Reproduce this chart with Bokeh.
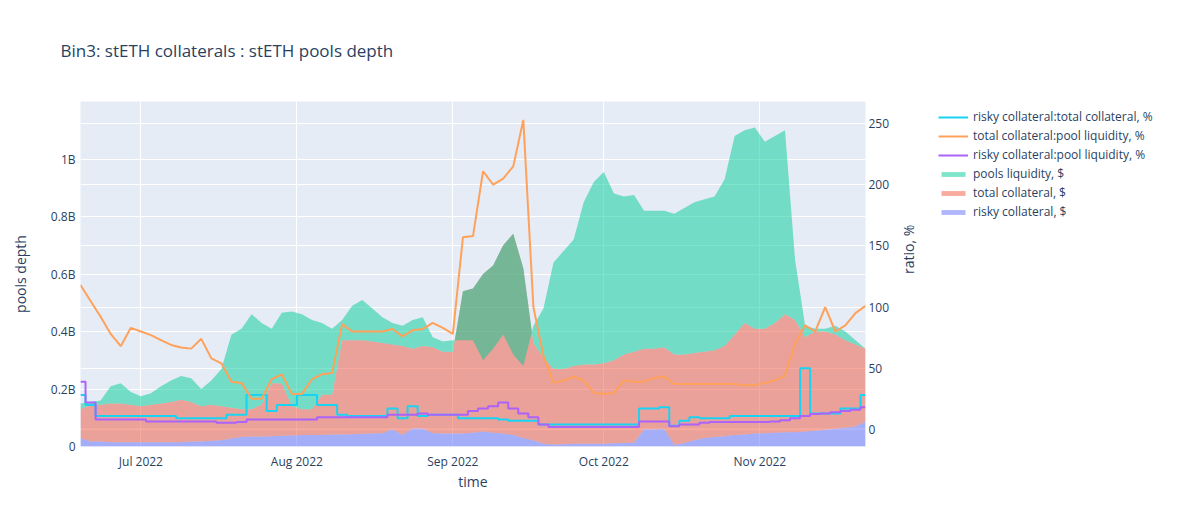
import math
import pandas as pd
from bokeh.plotting import figure
from bokeh.layouts import row
from bokeh.models import (Range1d, LinearAxis, Grid, FixedTicker, CustomJSTickFormatter,
                          DatetimeTickFormatter, MonthsTicker, Legend, LegendItem, Span,
                          ColumnDataSource)
from bokeh.embed import file_html
from bokeh.resources import INLINE

# ---- data, one value every 2 days ----
dates = pd.date_range("2022-06-19", periods=79, freq="2D")

pools_liquidity_bn = [
    0.15, 0.155, 0.16, 0.21, 0.22, 0.19, 0.175, 0.185, 0.21, 0.23,
    0.245, 0.237, 0.20, 0.23, 0.27, 0.39, 0.41, 0.46, 0.43, 0.41,
    0.465, 0.47, 0.46, 0.44, 0.43, 0.41, 0.44, 0.49, 0.51, 0.48,
    0.45, 0.43, 0.42, 0.44, 0.45, 0.38, 0.365, 0.37, 0.37, 0.37,
    0.30, 0.34, 0.39, 0.32, 0.28, 0.42, 0.48, 0.64, 0.68, 0.72,
    0.85, 0.92, 0.955, 0.88, 0.87, 0.875, 0.82, 0.82, 0.82, 0.81,
    0.83, 0.85, 0.86, 0.87, 0.93, 1.08, 1.10, 1.11, 1.06, 1.08,
    1.10, 0.65, 0.42, 0.41, 0.41, 0.42, 0.40, 0.37, 0.34,
]
total_collateral_bn = [
    0.13, 0.145, 0.145, 0.15, 0.15, 0.145, 0.14, 0.145, 0.15, 0.155,
    0.163, 0.155, 0.14, 0.145, 0.14, 0.135, 0.13, 0.13, 0.145, 0.22,
    0.22, 0.14, 0.13, 0.13, 0.18, 0.18, 0.37, 0.37, 0.37, 0.365,
    0.36, 0.355, 0.35, 0.34, 0.35, 0.345, 0.33, 0.33, 0.54, 0.55,
    0.60, 0.63, 0.70, 0.74, 0.62, 0.36, 0.31, 0.27, 0.27, 0.28,
    0.285, 0.285, 0.29, 0.30, 0.32, 0.33, 0.34, 0.34, 0.345, 0.32,
    0.32, 0.325, 0.33, 0.335, 0.35, 0.39, 0.43, 0.41, 0.41, 0.43,
    0.46, 0.44, 0.38, 0.40, 0.40, 0.39, 0.37, 0.355, 0.34,
]
risky_collateral_bn = [
    0.03, 0.017, 0.017, 0.015, 0.015, 0.015, 0.015, 0.015, 0.015, 0.015,
    0.015, 0.017, 0.017, 0.02, 0.022, 0.028, 0.033, 0.035, 0.035, 0.036,
    0.037, 0.038, 0.04, 0.04, 0.04, 0.042, 0.042, 0.043, 0.044, 0.045,
    0.046, 0.06, 0.04, 0.063, 0.063, 0.046, 0.045, 0.045, 0.045, 0.048,
    0.052, 0.048, 0.045, 0.04, 0.03, 0.022, 0.01, 0.007, 0.008, 0.01,
    0.01, 0.01, 0.01, 0.011, 0.012, 0.013, 0.06, 0.06, 0.061, 0.006,
    0.012, 0.022, 0.03, 0.033, 0.036, 0.04, 0.042, 0.045, 0.046, 0.048,
    0.05, 0.05, 0.052, 0.055, 0.058, 0.062, 0.065, 0.07, 0.087,
]
ratio_total_pool = [
    118, 105, 92, 78, 68, 83, 80, 77, 73, 69,
    67, 66, 74, 58, 54, 39, 38, 25, 25, 41,
    45, 29, 29, 41, 45, 46, 86, 80, 80, 80,
    80, 82, 76, 81, 82, 87, 83, 78, 157, 158,
    211, 200, 205, 215, 253, 100, 60, 38, 40, 43,
    40, 30, 29, 30, 40, 39, 39, 42, 43, 37,
    37, 37, 37, 37, 37, 37, 36, 36, 38, 40,
    44, 70, 85, 80, 100, 80, 85, 95, 101,
]
ratio_risky_total = [
    28, 20, 11, 11, 11, 11, 11, 11, 11, 11,
    9, 9, 9, 9, 9, 12, 12, 28, 28, 15,
    20, 20, 28, 28, 20, 20, 12, 11, 11, 11,
    11, 17, 9, 19, 11, 12, 12, 12, 9, 9,
    9, 9, 8, 7, 7, 7, 4, 4, 4, 4,
    4, 4, 4, 4, 4, 4, 17, 17, 18, 3,
    7, 10, 9, 9, 9, 11, 11, 11, 11, 11,
    11, 11, 50, 13, 13, 13, 17, 17, 28,
]
ratio_risky_pool = [
    39, 22, 8, 8, 8, 8, 8, 6.5, 6.5, 6.5,
    6.5, 6.5, 6.5, 6.5, 5.5, 5.5, 6, 8, 8, 8,
    8, 8, 8, 8, 10, 10, 10, 10, 10, 10,
    10, 12, 12, 12, 13, 12, 12, 12, 12, 15,
    17, 19, 22, 17, 13, 10, 4, 2, 2, 2,
    2, 2, 2, 2, 2, 2, 6.5, 6.5, 6.5, 2.5,
    4, 4, 5.5, 6, 6, 6, 6, 6, 6, 6.5,
    7.5, 9, 11, 12.5, 13, 14, 15, 16, 18,
]
left_ticks = [0, 0.2, 0.4, 0.6, 0.8, 1.0]
right_ticks = [0, 50, 100, 150, 200, 250]

labels = [
    "risky collateral:total collateral, %",
    "total collateral:pool liquidity, %",
    "risky collateral:pool liquidity, %",
    "pools liquidity, $",
    "total collateral, $",
    "risky collateral, $",
]

src = ColumnDataSource(dict(
    t=dates, pools=pools_liquidity_bn, total=total_collateral_bn, risky=risky_collateral_bn,
    r_tp=ratio_total_pool, r_rt=ratio_risky_total, r_rp=ratio_risky_pool,
))

FONT = "Open Sans"
TXT = "#2a3f5f"
C_RT, C_TP, C_RP = "#19D3F3", "#FFA15A", "#AB63FA"
C_POOL, C_TOT, C_RISK = "#00CC96", "#EF553B", "#636EFA"

p = figure(frame_width=785, frame_height=345, x_axis_type="datetime",
           x_range=Range1d(dates[0], dates[-1]), y_range=Range1d(0, 1.2),
           output_backend="svg", toolbar_location=None,
           min_border_left=80, min_border_top=100, min_border_bottom=70, min_border_right=65,
           background_fill_color="#E5ECF6", border_fill_color="white", outline_line_color=None,
           title="Bin3: stETH collaterals : stETH pools depth")

p.title.text_font = FONT
p.title.text_font_size = "17px"
p.title.text_font_style = "normal"
p.title.text_color = TXT
p.title.align = "left"
p.title.vertical_align = "top"
p.title.offset = -20
p.title.standoff = 76

p.extra_y_ranges = {"ratio": Range1d(-14, 268)}

# grids
p.xgrid.grid_line_color = "white"
p.xgrid.grid_line_width = 1
p.ygrid.grid_line_color = "white"
p.ygrid.ticker = FixedTicker(ticks=left_ticks)
rgrid = Grid(dimension=1, ticker=FixedTicker(ticks=right_ticks), y_range_name="ratio",
             grid_line_color="white", grid_line_width=1)
p.add_layout(rgrid)
zero2 = Span(location=0, dimension="width", y_range_name="ratio", line_color="white",
             line_width=2, level="underlay")
p.add_layout(zero2)

# x axis
xa = p.xaxis[0]
xa.ticker = MonthsTicker(months=list(range(12)))
fmt = "%b %Y"
xa.formatter = DatetimeTickFormatter(months=fmt, days=fmt, years=fmt, hours=fmt,
                                     minutes=fmt, seconds=fmt, milliseconds=fmt, microseconds=fmt)
xa.axis_label = "time"

# left axis
ya = p.yaxis[0]
ya.ticker = FixedTicker(ticks=left_ticks)
ya.formatter = CustomJSTickFormatter(code="""
    if (tick == 0) { return "0"; }
    return (Math.round(tick * 10) / 10).toString() + "B";
""")
ya.axis_label = "pools depth"

# right axis
ra = LinearAxis(y_range_name="ratio", axis_label="ratio, %",
                ticker=FixedTicker(ticks=right_ticks))
p.add_layout(ra, "right")

for ax in [xa, ya, ra]:
    ax.axis_line_color = None
    ax.major_tick_line_color = None
    ax.minor_tick_line_color = None
    ax.major_tick_out = 0
    ax.major_tick_in = 0
    ax.major_label_text_font = FONT
    ax.major_label_text_font_size = "12px"
    ax.major_label_text_color = TXT
    ax.axis_label_text_font = FONT
    ax.axis_label_text_font_size = "14px"
    ax.axis_label_text_font_style = "normal"
    ax.axis_label_text_color = TXT

xa.major_label_standoff = 6
xa.axis_label_standoff = -1
ya.major_label_standoff = 5
ya.axis_label_standoff = 18
ra.major_label_standoff = 3
ra.axis_label_standoff = 16
ra.axis_label_orientation = math.pi / 2

# areas
r_risky = p.varea(x="t", y1=0, y2="risky", source=src, fill_color=C_RISK, fill_alpha=0.5)
r_total = p.varea(x="t", y1="risky", y2="total", source=src, fill_color=C_TOT, fill_alpha=0.5)
r_pools = p.varea(x="t", y1="total", y2="pools", source=src, fill_color=C_POOL, fill_alpha=0.5)

# ratio lines
l_rt = p.step(x="t", y="r_rt", source=src, y_range_name="ratio", mode="center",
              line_color=C_RT, line_width=2)
l_tp = p.line(x="t", y="r_tp", source=src, y_range_name="ratio",
              line_color=C_TP, line_width=2)
l_rp = p.step(x="t", y="r_rp", source=src, y_range_name="ratio", mode="center",
              line_color=C_RP, line_width=2)

# ---- legend panel (separate figure so it is not clipped by the plot frame) ----
p2 = figure(frame_width=262, frame_height=345, toolbar_location=None, output_backend="svg",
            x_range=Range1d(0, 1), y_range=Range1d(0, 1),
            min_border_left=0, min_border_right=0, min_border_top=100, min_border_bottom=70,
            outline_line_color=None, background_fill_color="white", border_fill_color="white")
p2.axis.visible = False
p2.grid.visible = False
# swatch-only glyphs: their single point lies outside the visible range
dummy = ColumnDataSource(dict(x=[-5, -4], y=[-5, -4], y0=[-6, -6]))
g_rt = p2.line(x="x", y="y", source=dummy, line_color=C_RT, line_width=2)
g_tp = p2.line(x="x", y="y", source=dummy, line_color=C_TP, line_width=2)
g_rp = p2.line(x="x", y="y", source=dummy, line_color=C_RP, line_width=2)
g_po = p2.varea(x="x", y1="y0", y2="y", source=dummy, fill_color=C_POOL, fill_alpha=0.5)
g_to = p2.varea(x="x", y1="y0", y2="y", source=dummy, fill_color=C_TOT, fill_alpha=0.5)
g_ri = p2.varea(x="x", y1="y0", y2="y", source=dummy, fill_color=C_RISK, fill_alpha=0.5)

legend = Legend(items=[LegendItem(label=lab, renderers=[r])
                       for lab, r in zip(labels, [g_rt, g_tp, g_rp, g_po, g_to, g_ri])],
                location=(8, 225))
legend.label_text_font = FONT
legend.label_text_font_size = "12px"
legend.label_text_color = TXT
legend.glyph_width = 30
legend.glyph_height = 6
legend.label_height = 19
legend.label_standoff = 5
legend.spacing = 0
legend.padding = 0
legend.margin = 0
legend.border_line_color = None
legend.background_fill_alpha = 0
p2.add_layout(legend)

layout = row(p, p2)
open("out.html", "w").write(file_html(layout, INLINE))
